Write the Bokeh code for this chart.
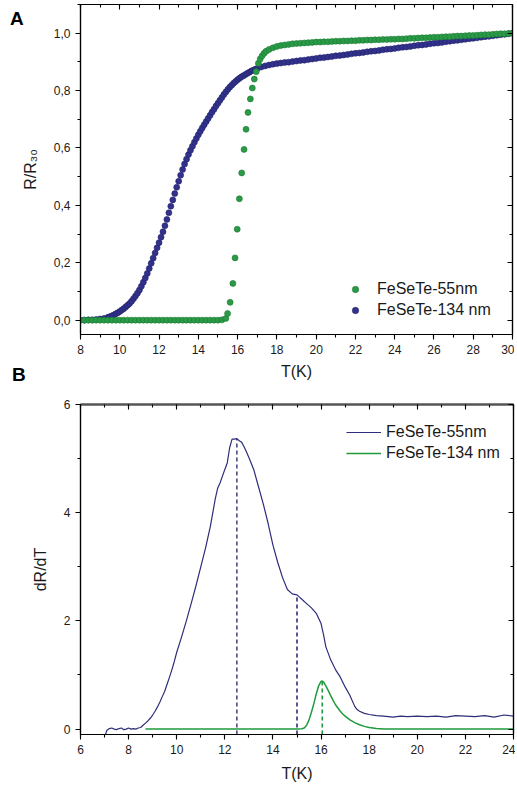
from bokeh.plotting import figure
from bokeh.models import (Range1d, LinearAxis, SingleIntervalTicker,
                          CustomJSTickFormatter, Div)
from bokeh.layouts import column
from bokeh.embed import file_html
from bokeh.resources import INLINE

# ---------------- Panel A : R/R30 vs T ----------------
T_134_A = [8.0, 8.2, 8.4, 8.6, 8.8, 9.0, 9.2, 9.4,
           9.5, 9.6, 9.7, 9.8, 9.9, 10.0, 10.1, 10.2, 10.3, 10.4,
           10.5, 10.6, 10.7, 10.8, 10.9, 11.0, 11.1, 11.2, 11.3, 11.4,
           11.5, 11.6, 11.7, 11.8, 11.9, 12.0, 12.1, 12.2, 12.3, 12.4,
           12.5, 12.6, 12.7, 12.8, 12.9, 13.0, 13.1, 13.2, 13.3, 13.4,
           13.5, 13.6, 13.7, 13.8, 13.9, 14.0, 14.1, 14.2, 14.3, 14.4,
           14.5, 14.6, 14.7, 14.8, 14.9, 15.0, 15.1, 15.2, 15.3, 15.4,
           15.5, 15.6, 15.7, 15.8, 15.9, 16.0, 16.1, 16.2, 16.3, 16.4,
           16.5, 16.6, 16.7, 16.8, 16.9, 17.0,
           17.2, 17.4, 17.6, 17.8, 18.0, 18.2, 18.4, 18.6, 18.8, 19.0,
           19.2, 19.4, 19.6, 19.8, 20.0, 20.2, 20.4, 20.6, 20.8, 21.0,
           21.2, 21.4, 21.6, 21.8, 22.0, 22.2, 22.4, 22.6, 22.8, 23.0,
           23.2, 23.4, 23.6, 23.8, 24.0, 24.2, 24.4, 24.6, 24.8, 25.0,
           25.2, 25.4, 25.6, 25.8, 26.0, 26.2, 26.4, 26.6, 26.8, 27.0,
           27.2, 27.4, 27.6, 27.8, 28.0, 28.2, 28.4, 28.6, 28.8, 29.0,
           29.2, 29.4, 29.6, 29.8, 30.0]
R_134_A = [0.000, 0.000, 0.001, 0.001, 0.002, 0.004, 0.006, 0.010,
           0.012, 0.015, 0.018, 0.022, 0.026, 0.030, 0.035, 0.040, 0.046, 0.052,
           0.058, 0.066, 0.075, 0.084, 0.094, 0.105, 0.118, 0.132, 0.147, 0.163,
           0.180, 0.198, 0.216, 0.234, 0.252, 0.270, 0.289, 0.308, 0.329, 0.351,
           0.374, 0.397, 0.419, 0.441, 0.463, 0.484, 0.505, 0.525, 0.544, 0.561,
           0.577, 0.592, 0.606, 0.620, 0.633, 0.646, 0.658, 0.670, 0.681, 0.692,
           0.703, 0.714, 0.725, 0.735, 0.746, 0.756, 0.766, 0.776, 0.786, 0.795,
           0.804, 0.812, 0.819, 0.826, 0.832, 0.838, 0.843, 0.848, 0.852, 0.856,
           0.860, 0.864, 0.868, 0.871, 0.874, 0.877,
           0.882, 0.886, 0.889, 0.892, 0.894, 0.896, 0.898, 0.899, 0.901, 0.903,
           0.905, 0.906, 0.908, 0.910, 0.912, 0.914, 0.915, 0.917, 0.919, 0.921,
           0.922, 0.924, 0.926, 0.928, 0.930, 0.931, 0.933, 0.935, 0.937, 0.938,
           0.940, 0.942, 0.944, 0.945, 0.947, 0.949, 0.951, 0.952, 0.954, 0.956,
           0.958, 0.959, 0.961, 0.963, 0.965, 0.966, 0.968, 0.970, 0.972, 0.974,
           0.975, 0.977, 0.979, 0.981, 0.982, 0.984, 0.986, 0.988, 0.989, 0.991,
           0.993, 0.995, 0.996, 0.998, 1.000]

T_55_A = [8.0, 8.2, 8.4, 8.6, 8.8, 9.0, 9.2, 9.4, 9.6, 9.8,
          10.0, 10.2, 10.4, 10.6, 10.8, 11.0, 11.2, 11.4, 11.6, 11.8,
          12.0, 12.2, 12.4, 12.6, 12.8, 13.0, 13.2, 13.4, 13.6, 13.8,
          14.0, 14.2, 14.4, 14.6, 14.8, 15.0, 15.2,
          15.40, 15.49, 15.62, 15.76, 15.87, 15.98, 16.09, 16.21, 16.33, 16.43,
          16.53, 16.65, 16.75, 16.85, 16.95, 17.06, 17.15, 17.25, 17.35, 17.45,
          17.6, 17.8, 18.0, 18.2, 18.4, 18.6, 18.8, 19.0, 19.2, 19.4,
          19.6, 19.8, 20.0, 20.2, 20.4, 20.6, 20.8, 21.0, 21.2, 21.4,
          21.6, 21.8, 22.0, 22.2, 22.4, 22.6, 22.8, 23.0, 23.2, 23.4,
          23.6, 23.8, 24.0, 24.2, 24.4, 24.6, 24.8, 25.0, 25.2, 25.4,
          25.6, 25.8, 26.0, 26.2, 26.4, 26.6, 26.8, 27.0, 27.2, 27.4,
          27.6, 27.8, 28.0, 28.2, 28.4, 28.6, 28.8, 29.0, 29.2, 29.4,
          29.6, 29.8, 30.0]
R_55_A = [0.0, 0.0, 0.0, 0.0, 0.0, 0.0, 0.0, 0.0, 0.0, 0.0,
          0.0, 0.0, 0.0, 0.0, 0.0, 0.0, 0.0, 0.0, 0.0, 0.0,
          0.0, 0.0, 0.0, 0.0, 0.0, 0.0, 0.0, 0.0, 0.0, 0.0,
          0.0, 0.0, 0.0, 0.0, 0.0, 0.0, 0.001,
          0.006, 0.023, 0.062, 0.128, 0.217, 0.317, 0.423, 0.513, 0.595, 0.665,
          0.724, 0.771, 0.809, 0.840, 0.866, 0.895, 0.910, 0.921, 0.930, 0.937,
          0.943, 0.949, 0.954, 0.957, 0.959, 0.961, 0.963, 0.964, 0.965, 0.966,
          0.967, 0.968, 0.969, 0.969, 0.970, 0.970, 0.971, 0.972, 0.972, 0.973,
          0.973, 0.974, 0.974, 0.975, 0.975, 0.976, 0.976, 0.977, 0.977, 0.978,
          0.978, 0.979, 0.979, 0.980, 0.980, 0.981, 0.982, 0.982, 0.983, 0.984,
          0.984, 0.985, 0.986, 0.986, 0.987, 0.988, 0.988, 0.989, 0.990, 0.990,
          0.991, 0.992, 0.992, 0.993, 0.994, 0.995, 0.995, 0.996, 0.997, 0.998,
          0.998, 0.999, 1.000]

# ---------------- Panel B : dR/dT vs T ----------------
T_55_B = [7.04, 7.10, 7.2, 7.3, 7.4, 7.5, 7.6, 7.7, 7.8, 7.9,
          8.0, 8.1, 8.2, 8.3, 8.4, 8.5, 8.6, 8.7, 8.8, 8.9,
          9.0, 9.1, 9.2, 9.3, 9.4, 9.5, 9.6, 9.7, 9.8, 9.9,
          10.0, 10.2, 10.4, 10.6, 10.8, 11.0, 11.2, 11.4, 11.6, 11.7,
          11.8, 12.0, 12.1, 12.2, 12.3, 12.4, 12.5, 12.6, 12.7, 12.8,
          12.9, 13.0, 13.2, 13.4, 13.6, 13.8, 14.0, 14.2, 14.4, 14.6,
          14.8, 15.0, 15.1, 15.2, 15.4, 15.6, 15.8, 16.0, 16.1, 16.2,
          16.4, 16.6, 16.8, 17.0, 17.2, 17.4, 17.5, 17.6, 17.8, 18.0,
          18.3, 18.6, 19.0, 19.3, 19.6, 20.0, 20.4, 20.8, 21.2, 21.6,
          22.0, 22.4, 22.8, 23.2, 23.6, 24.0]
dRdT_55_B = [-0.10, -0.02, 0.01, 0.02, 0.00, -0.01, 0.01, 0.02, -0.01, 0.00,
             0.02, 0.00, 0.01, 0.00, 0.02, 0.03, 0.07, 0.11, 0.15, 0.20,
             0.26, 0.33, 0.41, 0.50, 0.60, 0.70, 0.83, 0.96, 1.10, 1.25,
             1.42, 1.70, 2.00, 2.32, 2.65, 3.00, 3.35, 3.75, 4.25, 4.45,
             4.55, 4.80, 4.92, 5.20, 5.36, 5.36, 5.37, 5.33, 5.30, 5.22,
             5.12, 5.02, 4.80, 4.48, 4.16, 3.80, 3.40, 3.08, 2.80, 2.58,
             2.50, 2.48, 2.44, 2.40, 2.32, 2.24, 2.14, 1.95, 1.75, 1.52,
             1.28, 1.10, 0.96, 0.78, 0.62, 0.42, 0.36, 0.33, 0.29, 0.27,
             0.25, 0.24, 0.22, 0.24, 0.23, 0.24, 0.23, 0.24, 0.22, 0.25,
             0.24, 0.23, 0.25, 0.22, 0.26, 0.24]

T_134_B = [8.7, 10.0, 12.0, 14.0, 15.0, 15.2, 15.3, 15.4, 15.5, 15.6,
           15.7, 15.8, 15.9, 16.0, 16.05, 16.1, 16.2, 16.3, 16.4, 16.5,
           16.6, 16.7, 16.8, 16.9, 17.0, 17.2, 17.4, 17.6, 17.8, 18.0,
           18.3, 18.6, 20.0, 22.0, 24.0]
dRdT_134_B = [0.0, 0.0, 0.0, 0.0, 0.0, 0.005, 0.02, 0.07, 0.17, 0.31,
              0.47, 0.65, 0.80, 0.88, 0.89, 0.87, 0.80, 0.71, 0.62, 0.53,
              0.45, 0.39, 0.33, 0.28, 0.24, 0.17, 0.12, 0.08, 0.05, 0.03,
              0.01, 0.0, 0.0, 0.0, 0.0]

peak_T = [12.5, 15.0, 16.05]
peak_val = [5.37, 2.48, 0.89]

xA_range = (8, 30)
yA_range = (-0.05, 1.1)
xB_range = (6, 24)
yB_range = (-0.1, 6)

BLUE = "#32328c"
BLUE_EDGE = "#22226a"
GREEN = "#2a9a47"
GREEN_EDGE = "#1b7a33"
NAVY_LINE = "#2d2d7a"
GREEN_LINE = "#1f9a3c"
FONT = "Liberation Sans"
TXT = "#1a1a1a"


def mirror_axis(interval):
    return LinearAxis(ticker=SingleIntervalTicker(interval=interval, num_minor_ticks=2),
                      major_label_text_font_size="0px", major_label_text_color=None,
                      major_tick_in=5, major_tick_out=0,
                      minor_tick_in=3, minor_tick_out=0, major_label_standoff=0,
                      axis_label_standoff=0, axis_line_width=1.2,
                      major_tick_line_width=1.1, minor_tick_line_width=1.1)


def style_axes(p, xint, yint, xlab, ylab, xlab_standoff, yformatter=None):
    p.grid.visible = False
    p.outline_line_color = "black"
    p.outline_line_width = 1.2
    p.background_fill_color = "white"
    p.border_fill_color = "white"
    xa = p.xaxis[0]
    ya = p.yaxis[0]
    xa.ticker = SingleIntervalTicker(interval=xint, num_minor_ticks=2)
    ya.ticker = SingleIntervalTicker(interval=yint, num_minor_ticks=2)
    if yformatter is not None:
        ya.formatter = yformatter
    for ax in (xa, ya):
        ax.major_tick_in = 0
        ax.major_tick_out = 5
        ax.minor_tick_in = 0
        ax.minor_tick_out = 3
        ax.axis_line_width = 1.2
        ax.major_tick_line_width = 1.1
        ax.minor_tick_line_width = 1.1
        ax.major_label_text_font = FONT
        ax.major_label_text_font_size = "12px"
        ax.major_label_text_color = TXT
        ax.axis_label_text_font = FONT
        ax.axis_label_text_font_size = "16px"
        ax.axis_label_text_font_style = "normal"
        ax.axis_label_text_color = TXT
        ax.major_label_standoff = 5
    xa.axis_label = xlab
    ya.axis_label = ylab
    xa.axis_label_standoff = xlab_standoff
    ya.axis_label_standoff = 12
    p.add_layout(mirror_axis(xint), "above")
    p.add_layout(mirror_axis(yint), "right")


def style_legend(leg, glyph_w, standoff, loc):
    leg.location = loc
    leg.border_line_color = None
    leg.background_fill_alpha = 0
    leg.label_text_font = FONT
    leg.label_text_font_size = "16px"
    leg.label_text_color = TXT
    leg.glyph_width = glyph_w
    leg.glyph_height = 16
    leg.label_height = 16
    leg.label_standoff = standoff
    leg.spacing = 3


# ---------------- Figure A ----------------
pA = figure(width=514, height=392, x_range=Range1d(*xA_range), y_range=Range1d(*yA_range),
            output_backend="svg", toolbar_location=None,
            min_border_left=78, min_border_right=2, min_border_top=4, min_border_bottom=58)
style_axes(pA, 2, 0.2, "T(K)", "R/R\u2083\u2080", 6,
           CustomJSTickFormatter(code="return tick.toFixed(1).replace('.', ',');"))

pA.scatter(T_134_A, R_134_A, size=6, fill_color=BLUE, line_color=BLUE_EDGE,
           line_width=0.6, legend_label="FeSeTe-134 nm")
pA.scatter(T_55_A, R_55_A, size=6, fill_color=GREEN, line_color=GREEN_EDGE,
           line_width=0.6, legend_label="FeSeTe-55nm")
legA = pA.legend[0]
legA.items = [legA.items[1], legA.items[0]]
style_legend(legA, 20, 12, (265, 15))

# ---------------- Figure B ----------------
pB = figure(width=515, height=394, x_range=Range1d(*xB_range), y_range=Range1d(*yB_range),
            output_backend="svg", toolbar_location=None,
            min_border_left=80, min_border_right=2, min_border_top=12, min_border_bottom=52)
style_axes(pB, 2, 2, "T(K)", "dR/dT", 8)
pB.xaxis[0].axis_line_color = "#555555"
pB.xaxis[0].axis_line_width = 2.5

pB.segment(x0=peak_T, y0=[yB_range[0]] * len(peak_T), x1=peak_T, y1=peak_val,
           line_color=["#4a4a7e", NAVY_LINE, GREEN_LINE], line_width=1.6,
           line_dash="4 3")
pB.line(T_55_B, dRdT_55_B, line_color=NAVY_LINE, line_width=1.2, legend_label="FeSeTe-55nm")
pB.line(T_134_B, dRdT_134_B, line_color=GREEN_LINE, line_width=1.5, legend_label="FeSeTe-134 nm")
style_legend(pB.legend[0], 35, 5, (266, 272))


def panel_letter(letter, left, top):
    return Div(text=letter, width=20, height=22,
               styles={"position": "absolute", "left": f"{left}px", "top": f"{top}px",
                       "font-family": FONT, "font-size": "19px", "font-weight": "bold",
                       "color": "black", "margin": "0", "line-height": "22px"})


layout = column(pA, pB, panel_letter("A", 10, 8), panel_letter("B", 12, 364), spacing=0)
open("out.html", "w").write(file_html(layout, INLINE))
